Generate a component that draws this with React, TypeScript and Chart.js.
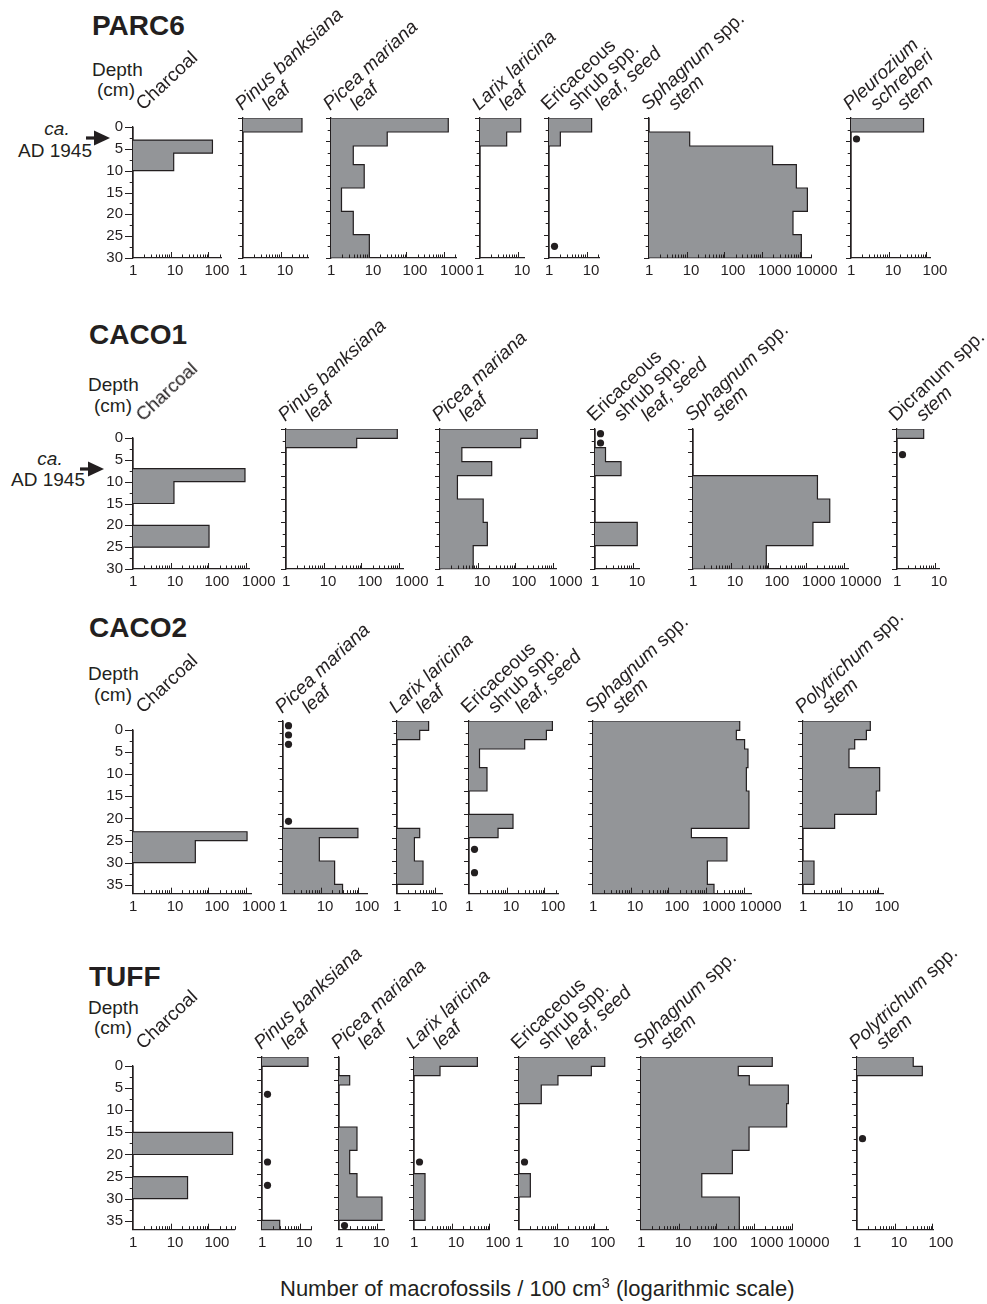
import React, { useEffect, useRef } from "react";
import { Chart, registerables } from "chart.js";

Chart.register(...registerables);

const FONT = "'Liberation Sans', Arial, Helvetica, sans-serif";
const INK = "#231f20";
const FILL = "#939598";
Chart.defaults.font.family = FONT;
Chart.defaults.color = INK;

// ---------------- data ----------------
const DEPTH_TICK_LABELS = [0, 5, 10, 15, 20, 25, 30, 35];
const X_TICK_LABELS = [1, 10, 100, 1000, 10000];
const DOT_VALUE = 1.4; // presence marker position

// PARC6
const PARC6_DEPTHS = [0, 3, 6, 10, 15, 20, 25, 30];
const PARC6_CHARCOAL = [0, 128, 12, 0, 0, 0, 0];
const PARC6_PINUS = [36.7, 0, 0, 0, 0, 0, 0];
const PARC6_PICEA = [1290, 31, 3.9, 7.6, 1.9, 3.9, 10.4];
const PARC6_LARIX = [12, 5.1, 0, 0, 0, 0, 0];
const PARC6_ERICACEOUS = [13.5, 2.0, 0, 0, 0, 0, 0];
const PARC6_ERICACEOUS_DOTS = [27.5];
const PARC6_SPHAGNUM = [0, 12, 1900, 8100, 15900, 6600, 11000];
const PARC6_PLEUROZIUM = [84, 0, 0, 0, 0, 0, 0];
const PARC6_PLEUROZIUM_DOTS = [4.5];
const PARC6_AXIS_MAX = [220, 53, 2150, 15, 22, 20000, 125];

// CACO1
const CACO1_DEPTHS = [0, 2, 4, 7, 10, 15, 20, 25, 30];
const CACO1_CHARCOAL = [0, 0, 0, 934, 12.2, 0, 104, 0];
const CACO1_PINUS = [896, 75, 0, 0, 0, 0, 0, 0];
const CACO1_PICEA = [380, 138, 3.8, 23.5, 2.9, 14, 18, 7.6];
const CACO1_ERICACEOUS = [0, 0, 1.9, 4.9, 0, 0, 13.2, 0];
const CACO1_ERICACEOUS_DOTS = [1, 3];
const CACO1_SPHAGNUM = [0, 0, 0, 0, 2000, 4240, 1520, 88];
const CACO1_DICRANUM = [5.1, 0, 0, 0, 0, 0, 0, 0];
const CACO1_DICRANUM_DOTS = [5.5];
const CACO1_AXIS_MAX = [1200, 1300, 1200, 15.5, 13700, 13.5];

// CACO2
const CACO2_DEPTHS = [0, 2, 4, 6, 10, 15, 20, 23, 25, 30, 35, 37];
const CACO2_CHARCOAL = [0, 0, 0, 0, 0, 0, 0, 1060, 45, 0, 0];
const CACO2_PICEA = [0, 0, 0, 0, 0, 0, 0, 97, 9.2, 23.4, 38];
const CACO2_PICEA_DOTS = [1, 3, 5, 21.5];
const CACO2_LARIX = [6.9, 4.0, 0, 0, 0, 0, 0, 4.0, 2.9, 4.9, 0];
const CACO2_ERICACEOUS = [163, 113, 30, 1.9, 3.0, 0, 14.7, 5.9, 0, 0, 0];
const CACO2_ERICACEOUS_DOTS = [27.5, 32.5];
const CACO2_SPHAGNUM = [7800, 6350, 10500, 12900, 11700, 13700, 13700, 407, 3570, 1080, 1620];
const CACO2_POLYTRICHUM = [61, 48, 23.5, 16.6, 108, 88, 6.9, 0, 0, 1.96, 0];
const CACO2_AXIS_MAX = [1400, 170, 16.6, 230, 16000, 140];

// TUFF
const TUFF_DEPTHS = [0, 2, 4, 6, 10, 15, 20, 25, 30, 35, 37];
const TUFF_CHARCOAL = [0, 0, 0, 0, 0, 438, 0, 28, 0, 0];
const TUFF_PINUS = [16.6, 0, 0, 0, 0, 0, 0, 0, 0, 2.95];
const TUFF_PINUS_DOTS = [8, 22.5, 27.5];
const TUFF_PICEA = [0, 0, 1.92, 0, 0, 3.0, 1.92, 3.0, 13.8, 0];
const TUFF_PICEA_DOTS = [36.1];
const TUFF_LARIX = [48, 4.9, 0, 0, 0, 0, 0, 1.96, 1.96, 0];
const TUFF_LARIX_DOTS = [22.5];
const TUFF_ERICACEOUS = [188, 83, 10.8, 3.9, 0, 0, 0, 2.0, 0, 0];
const TUFF_ERICACEOUS_DOTS = [22.5];
const TUFF_SPHAGNUM = [3030, 380, 745, 8100, 7300, 735, 265, 41, 405, 405];
const TUFF_POLYTRICHUM = [31, 54, 0, 0, 0, 0, 0, 0, 0, 0];
const TUFF_POLYTRICHUM_DOTS = [17.5];
const TUFF_AXIS_MAX = [500, 21, 16.3, 100, 240, 10300, 108];

// taxon headings (*...* = italic)
const L_CHAR = ["Charcoal"];
const L_PINUS = ["*Pinus banksiana*", "*leaf*"];
const L_PICEA = ["*Picea mariana*", "*leaf*"];
const L_LARIX = ["*Larix laricina*", "*leaf*"];
const L_ERIC = ["Ericaceous", "shrub spp.", "*leaf, seed*"];
const L_SPHAG = ["*Sphagnum* spp.", "*stem*"];
const L_PLEUR = ["*Pleurozium*", "*schreberi*", "*stem*"];
const L_DICR = ["Dicranum spp.", "*stem*"];
const L_POLY = ["*Polytrichum* spp.", "*stem*"];

// ---------------- layout ----------------
const DECADE_PX = 37.7;
const CM_PX = 4.667;
const PAD_T = 10;
const PAD_R = 46;
const BOTTOM_H = 30;

type PanelSpec = { label: string[]; values: number[]; dots: number[]; xMax: number };
type SiteSpec = {
  name: string;
  depths: number[];
  depthMax: number;
  top: number;
  axes: number[];
  panels: PanelSpec[];
  titleBase: number;
  depthBase: number;
  cmBase: number;
  titleX: number;
  depthX: number;
  cmX: number;
  arrow?: { y: number; tipX: number; caBase: number; adBase: number; cx: number };
};

const SITES: SiteSpec[] = [
  {
    name: "PARC6",
    depths: PARC6_DEPTHS,
    depthMax: 30,
    top: 118,
    axes: [133, 243, 331, 480, 549, 649, 851],
    titleBase: 36, titleX: 92, depthBase: 76.5, depthX: 92, cmBase: 96.5, cmX: 97,
    arrow: { y: 138, tipX: 110, caBase: 135, adBase: 157, cx: 55 },
    panels: [
      { label: L_CHAR, values: PARC6_CHARCOAL, dots: [], xMax: PARC6_AXIS_MAX[0] },
      { label: L_PINUS, values: PARC6_PINUS, dots: [], xMax: PARC6_AXIS_MAX[1] },
      { label: L_PICEA, values: PARC6_PICEA, dots: [], xMax: PARC6_AXIS_MAX[2] },
      { label: L_LARIX, values: PARC6_LARIX, dots: [], xMax: PARC6_AXIS_MAX[3] },
      { label: L_ERIC, values: PARC6_ERICACEOUS, dots: PARC6_ERICACEOUS_DOTS, xMax: PARC6_AXIS_MAX[4] },
      { label: L_SPHAG, values: PARC6_SPHAGNUM, dots: [], xMax: PARC6_AXIS_MAX[5] },
      { label: L_PLEUR, values: PARC6_PLEUROZIUM, dots: PARC6_PLEUROZIUM_DOTS, xMax: PARC6_AXIS_MAX[6] },
    ],
  },
  {
    name: "CACO1",
    depths: CACO1_DEPTHS,
    depthMax: 30,
    top: 429,
    axes: [133, 286, 440, 595, 693, 897],
    titleBase: 345, titleX: 89, depthBase: 391, depthX: 88, cmBase: 412, cmX: 94,
    arrow: { y: 469, tipX: 104, caBase: 465, adBase: 486.5, cx: 48 },
    panels: [
      { label: L_CHAR, values: CACO1_CHARCOAL, dots: [], xMax: CACO1_AXIS_MAX[0] },
      { label: L_PINUS, values: CACO1_PINUS, dots: [], xMax: CACO1_AXIS_MAX[1] },
      { label: L_PICEA, values: CACO1_PICEA, dots: [], xMax: CACO1_AXIS_MAX[2] },
      { label: L_ERIC, values: CACO1_ERICACEOUS, dots: CACO1_ERICACEOUS_DOTS, xMax: CACO1_AXIS_MAX[3] },
      { label: L_SPHAG, values: CACO1_SPHAGNUM, dots: [], xMax: CACO1_AXIS_MAX[4] },
      { label: L_DICR, values: CACO1_DICRANUM, dots: CACO1_DICRANUM_DOTS, xMax: CACO1_AXIS_MAX[5] },
    ],
  },
  {
    name: "CACO2",
    depths: CACO2_DEPTHS,
    depthMax: 37,
    top: 721,
    axes: [133, 283, 397, 469, 593, 803],
    titleBase: 638, titleX: 89, depthBase: 680, depthX: 88, cmBase: 701, cmX: 94,
    panels: [
      { label: L_CHAR, values: CACO2_CHARCOAL, dots: [], xMax: CACO2_AXIS_MAX[0] },
      { label: L_PICEA, values: CACO2_PICEA, dots: CACO2_PICEA_DOTS, xMax: CACO2_AXIS_MAX[1] },
      { label: L_LARIX, values: CACO2_LARIX, dots: [], xMax: CACO2_AXIS_MAX[2] },
      { label: L_ERIC, values: CACO2_ERICACEOUS, dots: CACO2_ERICACEOUS_DOTS, xMax: CACO2_AXIS_MAX[3] },
      { label: L_SPHAG, values: CACO2_SPHAGNUM, dots: [], xMax: CACO2_AXIS_MAX[4] },
      { label: L_POLY, values: CACO2_POLYTRICHUM, dots: [], xMax: CACO2_AXIS_MAX[5] },
    ],
  },
  {
    name: "TUFF",
    depths: TUFF_DEPTHS,
    depthMax: 37,
    top: 1057,
    axes: [133, 262, 339, 414, 519, 641, 857],
    titleBase: 986.5, titleX: 89, depthBase: 1014, depthX: 88, cmBase: 1034, cmX: 94,
    panels: [
      { label: L_CHAR, values: TUFF_CHARCOAL, dots: [], xMax: TUFF_AXIS_MAX[0] },
      { label: L_PINUS, values: TUFF_PINUS, dots: TUFF_PINUS_DOTS, xMax: TUFF_AXIS_MAX[1] },
      { label: L_PICEA, values: TUFF_PICEA, dots: TUFF_PICEA_DOTS, xMax: TUFF_AXIS_MAX[2] },
      { label: L_LARIX, values: TUFF_LARIX, dots: TUFF_LARIX_DOTS, xMax: TUFF_AXIS_MAX[3] },
      { label: L_ERIC, values: TUFF_ERICACEOUS, dots: TUFF_ERICACEOUS_DOTS, xMax: TUFF_AXIS_MAX[4] },
      { label: L_SPHAG, values: TUFF_SPHAGNUM, dots: [], xMax: TUFF_AXIS_MAX[5] },
      { label: L_POLY, values: TUFF_POLYTRICHUM, dots: TUFF_POLYTRICHUM_DOTS, xMax: TUFF_AXIS_MAX[6] },
    ],
  },
];

// step outline of the profile (absent intervals run along the axis at x = 1)
function outline(depths: number[], values: number[]) {
  const pts: { x: number; y: number }[] = [{ x: 1, y: depths[0] }];
  values.forEach((v, i) => {
    const x = v > 1 ? v : 1;
    pts.push({ x, y: depths[i] }, { x, y: depths[i + 1] });
  });
  pts.push({ x: 1, y: depths[depths.length - 1] });
  return pts;
}

function tickPlugin(first: boolean) {
  return {
    id: "axisTicks",
    afterDraw(chart: any) {
      const { ctx, chartArea, scales } = chart;
      const xs = scales.x;
      const ys = scales.y;
      ctx.save();
      ctx.strokeStyle = INK;
      ctx.lineWidth = 1;
      ctx.beginPath();
      const bottom = chartArea.bottom;
      for (let dec = 1; dec <= xs.max * 1.0001; dec *= 10) {
        for (let m = 1; m <= 9; m++) {
          const v = m * dec;
          if (v > xs.max * 1.0001) break;
          if (v === 1) continue;
          const px = Math.round(xs.getPixelForValue(v)) + 0.5;
          const len = m === 1 ? 6 : 3.5;
          ctx.moveTo(px, bottom);
          ctx.lineTo(px, bottom - len);
        }
      }
      const left = chartArea.left;
      for (let d = 0; d <= ys.max + 0.001; d += 2.5) {
        const py = Math.round(ys.getPixelForValue(d)) + 0.5;
        const major = Math.abs(d % 5) < 0.001;
        const len = major ? (first ? 8 : 5) : 3.3;
        ctx.moveTo(left, py);
        ctx.lineTo(left - len, py);
      }
      ctx.stroke();
      ctx.restore();
    },
  };
}

function Panel({ site, panel, idx }: { site: SiteSpec; panel: PanelSpec; idx: number }) {
  const ref = useRef<HTMLCanvasElement>(null);
  const first = idx === 0;
  const leftW = first ? 40 : 12;
  const plotW = DECADE_PX * Math.log10(panel.xMax);
  const plotH = CM_PX * site.depthMax;
  const width = Math.ceil(leftW + plotW + PAD_R);
  const height = Math.ceil(PAD_T + plotH + BOTTOM_H);
  const padR = width - leftW - plotW;
  const padB = height - PAD_T - plotH - BOTTOM_H;
  const axisX = site.axes[idx];

  useEffect(() => {
    const canvas = ref.current;
    if (!canvas) return;
    const chart = new Chart(canvas, {
      type: "line",
      data: {
        datasets: [
          {
            data: outline(site.depths, panel.values),
            fill: "shape",
            backgroundColor: FILL,
            borderColor: INK,
            borderWidth: 1.2,
            pointRadius: 0,
            tension: 0,
          },
          {
            data: panel.dots.map((d) => ({ x: DOT_VALUE, y: d })),
            showLine: false,
            pointRadius: 3.6,
            pointBackgroundColor: INK,
            pointBorderColor: INK,
            pointBorderWidth: 0,
            clip: false,
          },
        ],
      } as any,
      options: {
        animation: false,
        responsive: false,
        maintainAspectRatio: false,
        events: [],
        layout: { padding: { top: PAD_T, right: padR, bottom: padB, left: 0 } },
        plugins: { legend: { display: false }, tooltip: { enabled: false } },
        scales: {
          x: {
            type: "logarithmic",
            position: "bottom",
            min: 1,
            max: panel.xMax,
            afterFit: (s: any) => {
              s.height = BOTTOM_H;
            },
            afterBuildTicks: (s: any) => {
              s.ticks = X_TICK_LABELS.filter((v) => v <= panel.xMax * 1.0001).map((v) => ({ value: v }));
            },
            grid: { display: false, drawTicks: false },
            border: { display: true, color: INK, width: 1.3 },
            ticks: {
              color: INK,
              font: { size: 15, family: FONT },
              padding: 4,
              align: "start",
              labelOffset: -4,
              maxRotation: 0,
              minRotation: 0,
              autoSkip: false,
              callback: (v: any) => String(v),
            },
          },
          y: {
            type: "linear",
            min: 0,
            max: site.depthMax,
            reverse: true,
            afterFit: (s: any) => {
              s.width = leftW;
            },
            afterBuildTicks: (s: any) => {
              s.ticks = DEPTH_TICK_LABELS.filter((v) => v <= site.depthMax).map((v) => ({ value: v }));
            },
            grid: { display: false, drawTicks: false },
            border: { display: true, color: INK, width: 1.3 },
            ticks: {
              display: first,
              color: INK,
              font: { size: 15, family: FONT },
              padding: 10,
              autoSkip: false,
              callback: (v: any) => String(v),
            },
          },
        },
      } as any,
      plugins: [tickPlugin(first)],
    });
    return () => chart.destroy();
  }, []);

  return (
    <canvas
      ref={ref}
      width={width}
      height={height}
      style={{ position: "absolute", left: axisX - leftW, top: site.top - PAD_T, width, height }}
    />
  );
}

function Rich({ text }: { text: string }) {
  const parts = text.split("*");
  return (
    <>
      {parts.map((p, i) =>
        p ? (i % 2 ? <i key={i}>{p}</i> : <span key={i}>{p}</span>) : null
      )}
    </>
  );
}

function Txt({ x, base, size, bold, italic, children, center }: any) {
  return (
    <div
      style={{
        position: "absolute",
        left: center ? x - 100 : x,
        width: center ? 200 : undefined,
        textAlign: center ? "center" : undefined,
        top: base - 0.8465 * size,
        fontSize: size,
        lineHeight: `${size}px`,
        fontWeight: bold ? "bold" : "normal",
        fontStyle: italic ? "italic" : "normal",
        whiteSpace: "nowrap",
      }}
    >
      {children}
    </div>
  );
}

const LABEL_SIZE = 19;
const LABEL_ANGLE = -43;
const LINE_STEP = 27;

function RotLabel({ x, base, text }: { x: number; base: number; text: string }) {
  const asc = 0.8465 * LABEL_SIZE;
  return (
    <div
      style={{
        position: "absolute",
        left: x,
        top: base - asc,
        fontSize: LABEL_SIZE,
        lineHeight: `${LABEL_SIZE}px`,
        whiteSpace: "nowrap",
        transformOrigin: `0px ${asc}px`,
        transform: `rotate(${LABEL_ANGLE}deg)`,
      }}
    >
      <Rich text={text} />
    </div>
  );
}

function Arrow({ tipX, y }: { tipX: number; y: number }) {
  return (
    <svg
      width={30}
      height={20}
      style={{ position: "absolute", left: tipX - 26, top: y - 10 }}
    >
      <rect x={2} y={8.4} width={10} height={3.2} fill={INK} />
      <polygon points="10,2.5 26,10 10,17.5" fill={INK} />
    </svg>
  );
}

function Site({ site }: { site: SiteSpec }) {
  const labelBase = site.top - 7;
  return (
    <>
      <Txt x={site.titleX} base={site.titleBase} size={28} bold>
        {site.name}
      </Txt>
      <Txt x={site.depthX} base={site.depthBase} size={19}>
        Depth
      </Txt>
      <Txt x={site.cmX} base={site.cmBase} size={19}>
        (cm)
      </Txt>
      {site.arrow && (
        <>
          <Txt x={site.arrow.cx + 2} base={site.arrow.caBase} size={19} italic center>
            ca.
          </Txt>
          <Txt x={site.arrow.cx} base={site.arrow.adBase} size={19} center>
            AD 1945
          </Txt>
          <Arrow tipX={site.arrow.tipX} y={site.arrow.y} />
        </>
      )}
      {site.panels.map((p, i) => (
        <Panel key={i} site={site} panel={p} idx={i} />
      ))}
      {site.panels.map((p, i) =>
        p.label.map((line, k) => (
          <RotLabel
            key={`${i}-${k}`}
            x={site.axes[i] + (i === 0 ? 10 : -1) + k * LINE_STEP}
            base={labelBase}
            text={line}
          />
        ))
      )}
    </>
  );
}

export default function App() {
  return (
    <div
      style={{
        position: "absolute",
        left: 0,
        top: 0,
        width: 987,
        height: 1304,
        overflow: "hidden",
        background: "#ffffff",
        color: INK,
        fontFamily: FONT,
      }}
    >
      {SITES.map((s) => (
        <Site key={s.name} site={s} />
      ))}
      <Txt x={280} base={1297} size={22}>
        Number of macrofossils / 100 cm
        <span style={{ fontSize: 15, position: "relative", top: -8 }}>3</span> (logarithmic scale)
      </Txt>
    </div>
  );
}
